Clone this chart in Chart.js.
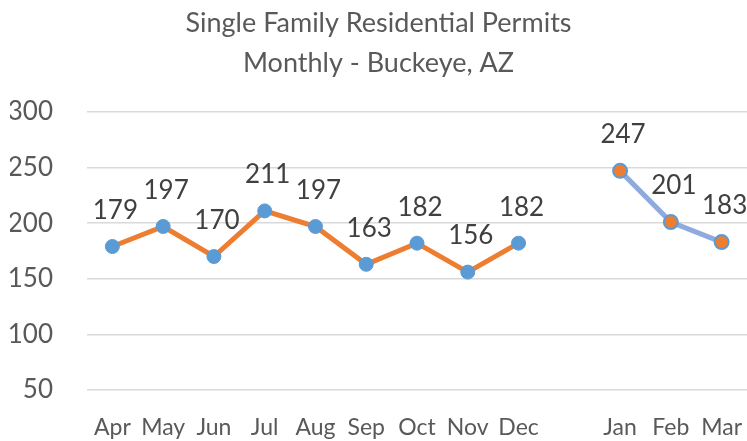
<!DOCTYPE html>
<html>
<head>
<meta charset="utf-8">
<script src="https://cdn.jsdelivr.net/npm/chart.js@4"></script>
<style>
html,body{margin:0;padding:0;background:#fff;}
#c{display:block;}
</style>
</head>
<body>
<canvas id="c" width="747" height="441"></canvas>
<script>
const months = ['Apr','May','Jun','Jul','Aug','Sep','Oct','Nov','Dec','','Jan','Feb','Mar'];
const prevYear = [179,197,170,211,197,163,182,156,182,null,null,null,null];
const currYear = [null,null,null,null,null,null,null,null,null,null,247,201,183];
const yTicks = [50,100,150,200,250,300];
const titleLines = ['Single Family Residential Permits','Monthly - Buckeye, AZ'];

const FONT = 'Lato, "Open Sans", sans-serif';

const labelPlugin = {
  id: 'pointLabels',
  afterDatasetsDraw(chart) {
    const ctx = chart.ctx;
    ctx.save();
    ctx.font = '26px ' + FONT;
    ctx.fillStyle = '#404040';
    ctx.textAlign = 'center';
    ctx.textBaseline = 'middle';
    chart.data.datasets.forEach((ds, di) => {
      const meta = chart.getDatasetMeta(di);
      meta.data.forEach((pt, i) => {
        const v = ds.data[i];
        if (v === null || v === undefined) return;
        ctx.fillText(String(v), pt.x + 3, pt.y - 36);
      });
    });
    ctx.restore();
  }
};

new Chart(document.getElementById('c'), {
  type: 'line',
  data: {
    labels: months,
    datasets: [
      {
        data: prevYear,
        borderColor: '#ED7D31',
        borderWidth: 5,
        pointBackgroundColor: '#5B9BD5',
        pointBorderColor: '#5B9BD5',
        pointRadius: 7,
        pointBorderWidth: 1,
        tension: 0,
        spanGaps: false
      },
      {
        data: currYear,
        borderColor: '#8FAADC',
        borderWidth: 5,
        pointBackgroundColor: '#ED7D31',
        pointBorderColor: '#5B9BD5',
        pointRadius: 7,
        pointBorderWidth: 2,
        tension: 0,
        spanGaps: false
      }
    ]
  },
  options: {
    responsive: false,
    animation: false,
    layout: { autoPadding: false, padding: { left: 10, right: 0, top: 3, bottom: 0 } },
    plugins: {
      legend: { display: false },
      tooltip: { enabled: false },
      title: {
        display: true,
        text: titleLines,
        color: '#595959',
        font: { family: FONT, size: 27, weight: 'normal', lineHeight: 1.48 },
        padding: { top: 0, bottom: 29 }
      }
    },
    scales: {
      x: {
        offset: true,
        afterFit(scale) { scale.height = 51; scale.paddingLeft = 0; scale.paddingRight = 0; },
        grid: { display: false, drawTicks: false },
        border: { display: false },
        ticks: {
          color: '#595959',
          font: { family: FONT, size: 23 },
          autoSkip: false,
          maxRotation: 0,
          padding: 24
        }
      },
      y: {
        min: 50,
        max: 300,
        afterFit(scale) { scale.width = 77; scale.paddingTop = 0; scale.paddingBottom = 0; },
        afterBuildTicks(scale) { scale.ticks = yTicks.map(v => ({ value: v })); },
        grid: { color: '#D9D9D9', lineWidth: 1.5, drawTicks: false },
        border: { display: false },
        ticks: {
          color: '#595959',
          font: { family: FONT, size: 26 },
          padding: 34
        }
      }
    }
  },
  plugins: [labelPlugin]
});
</script>
</body>
</html>
